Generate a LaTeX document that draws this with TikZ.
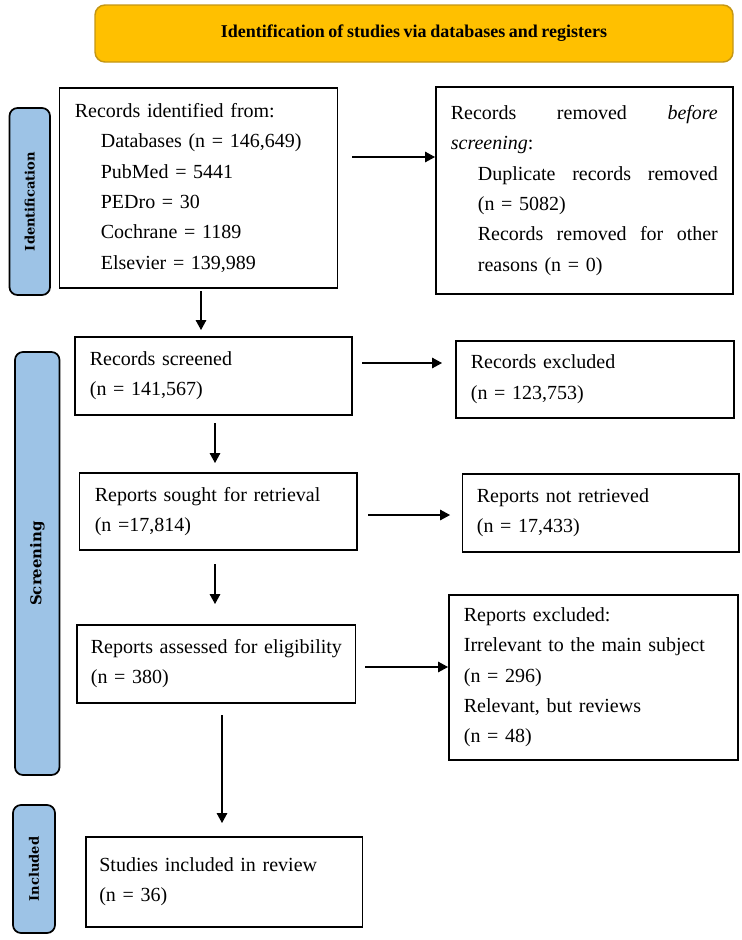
\documentclass[tikz,border=0pt]{standalone}
\usepackage{fontspec}
\newfontfamily\bxf[WordSpace=0.8]{Liberation Serif}
\newfontfamily\sidef{DejaVu Serif}
\usetikzlibrary{arrows.meta,calc}
\definecolor{gold}{RGB}{255,192,0}
\definecolor{goldline}{RGB}{196,150,20}
\definecolor{bandblue}{RGB}{157,195,230}
\begin{document}
\begin{tikzpicture}[x=0.75pt,y=-0.75pt,
  box/.style={draw=black,line width=1.3pt,font=\bxf\fontsize{15}{22.8}\selectfont,
    align=left,anchor=north west,inner ysep=0pt},
  band/.style={draw=black,line width=1.3pt,fill=bandblue,rounded corners=6pt,
    rotate=90,font=\sidef\bfseries\fontsize{9.8}{12}\selectfont,inner sep=0pt},
  arr/.style={line width=0.8pt,-{Triangle[length=7.5pt,width=8pt]}}]
\useasboundingbox (0,0) rectangle (742,940);

% header
\node[draw=goldline,line width=1.1pt,fill=gold,rounded corners=7.5pt,
  minimum width=478.5pt,minimum height=42.75pt,inner sep=0pt,
  font=\bxf\bfseries\fontsize{13.5}{16}\selectfont] (hdr) at (414,33.5)
  {Identification of studies via databases and registers};

% side bands
\node[band,minimum width=140.25pt,minimum height=30.4pt] (idb) at (29.75,201.5) {Identification};
\node[band,minimum width=317.25pt,minimum height=33.4pt,font=\sidef\bfseries\fontsize{11.2}{13}\selectfont] (scb) at (37.25,563.5) {Screening};
\node[band,minimum width=96pt,minimum height=31.5pt] (inb) at (34,869) {Included};

% boxes
\node[box,minimum width=208.5pt,minimum height=150pt,inner xsep=11.6pt,text width=185.3pt] (idf) at (58.5,87)
{Records identified from:\\
\hspace*{19.5pt}Databases (n = 146,649)\\
\hspace*{19.5pt}PubMed = 5441\\
\hspace*{19.5pt}PEDro = 30\\
\hspace*{19.5pt}Cochrane = 1189\\
\hspace*{19.5pt}Elsevier = 139,989};

\node[box,minimum width=222.75pt,minimum height=155.25pt,inner xsep=11.25pt,text width=200.25pt] (rem) at (435,86)
{\hbox to 200.25pt{Records\hfill removed\hfill\textit{before}}\\
\textit{screening}:\\
\hspace*{20.25pt}\hbox to 180pt{Duplicate\hfill records\hfill removed}\\
\hspace*{20.25pt}(n = 5082)\\
\hspace*{20.25pt}\hbox to 180pt{Records\hfill removed\hfill for\hfill other}\\
\hspace*{20.25pt}reasons (n = 0)};

\node[box,minimum width=207.75pt,minimum height=58.5pt,inner xsep=11.25pt,text width=185.25pt] (scr) at (74,336)
{Records screened\\(n = 141,567)};

\node[box,minimum width=208.5pt,minimum height=57.75pt,inner xsep=11.25pt,text width=186pt] (exc) at (455,340)
{Records excluded\\(n = 123,753)};

\node[box,minimum width=208.1pt,minimum height=57.75pt,inner xsep=11.6pt,text width=184.9pt] (sou) at (78.5,472)
{Reports sought for retrieval\\(n =17,814)};

\node[box,minimum width=207.4pt,minimum height=58.5pt,inner xsep=10.9pt,text width=185.6pt] (nrt) at (461.5,473)
{Reports not retrieved\\(n = 17,433)};

\node[box,minimum width=208.9pt,minimum height=58.5pt,inner xsep=10.5pt,text width=187.9pt] (ass) at (76,624)
{\mbox{Reports assessed for eligibility}\\(n = 380)};

\node[box,minimum width=217.1pt,minimum height=123.75pt,inner xsep=11.25pt,text width=194.6pt] (rex) at (448,594)
{Reports excluded:\\
Irrelevant to the main subject\\
(n = 296)\\
Relevant, but reviews\\
(n = 48)};

\node[box,minimum width=207.4pt,minimum height=67.5pt,inner xsep=10.1pt,text width=187.2pt] (stu) at (85,836)
{Studies included in review\\(n = 36)};

% connectors
\coordinate (a1) at (352,157);
\draw[arr] (a1) -- (a1 -| rem.west);
\coordinate (a2) at (201,291);
\draw[arr,shorten >=4.5pt] (a2) -- (a2 |- scr.north);
\coordinate (a3) at (362,363);
\draw[arr,shorten >=9.75pt] (a3) -- (a3 -| exc.west);
\coordinate (a4) at (215,423);
\draw[arr,shorten >=6.75pt] (a4) -- (a4 |- sou.north);
\coordinate (a5) at (368,515);
\draw[arr,shorten >=8.6pt] (a5) -- (a5 -| nrt.west);
\coordinate (a6) at (215,564);
\draw[arr,shorten >=15pt] (a6) -- (a6 |- ass.north);
\coordinate (a7) at (365,667);
\draw[arr] (a7) -- (a7 -| rex.west);
\coordinate (a8) at (222,715);
\draw[arr,shorten >=9.75pt] (a8) -- (a8 |- stu.north);
\end{tikzpicture}
\end{document}
